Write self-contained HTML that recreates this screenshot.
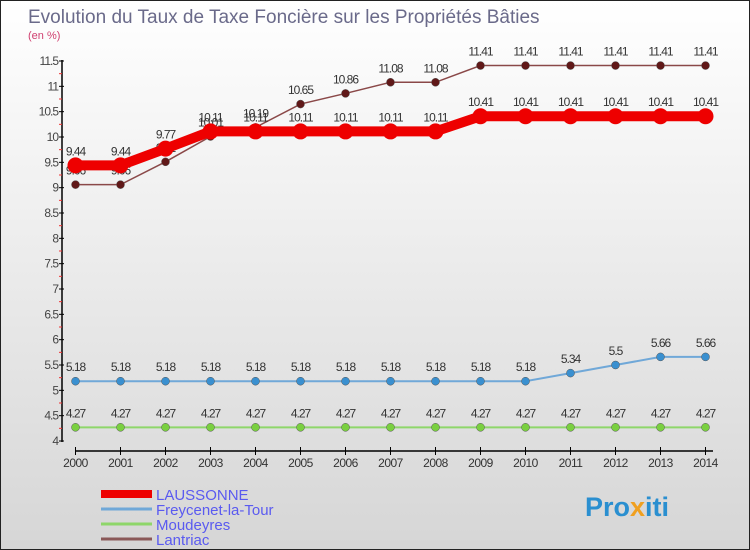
<!DOCTYPE html>
<html><head><meta charset="utf-8"><style>
body{margin:0}
#c{width:750px;height:550px;position:relative;box-sizing:border-box;border:1px solid #222;background:linear-gradient(#fff,#d6d6d6);font-family:"Liberation Sans",sans-serif;overflow:hidden}
</style></head><body>
<div id="c">
<svg id="s" width="748" height="548" xmlns="http://www.w3.org/2000/svg" style="position:absolute;left:0;top:0">
<text x="27" y="22" font-size="19" fill="#6a6a8a">Evolution du Taux de Taxe Foncière sur les Propriétés Bâties</text>
<text x="27" y="38" font-size="11" fill="#d04070">(en %)</text>
<g id="g"></g>
<text x="584" y="515" font-size="27" font-weight="bold" fill="#2a8fd0">Pro<tspan fill="#f0a020">x</tspan>iti</text>
</svg>
</div>
<script>
const years=[2000,2001,2002,2003,2004,2005,2006,2007,2008,2009,2010,2011,2012,2013,2014];
const yTicks=[4,4.5,5,5.5,6,6.5,7,7.5,8,8.5,9,9.5,10,10.5,11,11.5];
const lausonne=[9.44,9.44,9.77,10.11,10.11,10.11,10.11,10.11,10.11,10.41,10.41,10.41,10.41,10.41,10.41];
const freycenet=[5.18,5.18,5.18,5.18,5.18,5.18,5.18,5.18,5.18,5.18,5.18,5.34,5.5,5.66,5.66];
const moudeyres=[4.27,4.27,4.27,4.27,4.27,4.27,4.27,4.27,4.27,4.27,4.27,4.27,4.27,4.27,4.27];
const lantriac=[9.06,9.06,9.51,10.01,10.19,10.65,10.86,11.08,11.08,11.41,11.41,11.41,11.41,11.41,11.41];
const names=["LAUSSONNE","Freycenet-la-Tour","Moudeyres","Lantriac"];
const NS="http://www.w3.org/2000/svg",g=document.getElementById('g');
const X=i=>74.5+i*45, Y=v=>440-(v-4)*(380/7.5);
function mk(t,a,p){const e=document.createElementNS(NS,t);for(const k in a)e.setAttribute(k,a[k]);(p||g).appendChild(e);return e;}
// axes
let ax=mk('line',{x1:61,y1:59,x2:61,y2:441,stroke:'#000','stroke-width':1.5});


let bx=mk('line',{x1:74,y1:450,x2:712,y2:450,stroke:'#000','stroke-width':1.5});


yTicks.forEach((v,i)=>{
 mk('line',{x1:58,x2:63,y1:Y(v),y2:Y(v),stroke:'#000'});
 if(i<yTicks.length-1){mk('line',{x1:58,x2:61,y1:Y(v+0.25),y2:Y(v+0.25),stroke:'#e33'});}
 const t=mk('text',{x:57,y:Y(v)+4,'font-size':12,'text-anchor':'end',fill:'#444','letter-spacing':'-1'});t.textContent=v;
 
 
});
years.forEach((y,i)=>{
 mk('line',{x1:X(i),x2:X(i),y1:446,y2:454,stroke:'#000'});
 const t=mk('text',{x:X(i),y:466,'font-size':12,'text-anchor':'middle',fill:'#333','letter-spacing':'-0.5'});t.textContent=y;
 
 
});
function series(d,col,w,r,dot,name){
 const pl=mk('polyline',{points:d.map((v,i)=>X(i)+','+Y(v)).join(' '),fill:'none',stroke:col,'stroke-width':w});
 
 
 d.forEach((v,i)=>{
  const c=mk('circle',{cx:X(i),cy:Y(v),r:r,fill:dot,stroke:w>3?'none':'#555','stroke-width':0.5});
  
  
  const t=mk('text',{x:X(i),y:Y(v)-10,'font-size':12,'text-anchor':'middle',fill:'#333','letter-spacing':'-1'});t.textContent=v;
  
  
 });
}
series(moudeyres,'#8ed66a',2,4,'#7ad040','moudeyres');
series(freycenet,'#70a8d8',2,4,'#3a90d0','freycenet');
series(lantriac,'#8a4848',1.5,4,'#601818','lantriac');
series(lausonne,'#ee0000',10,8,'#ee0000','laussonne');
const lc=['#ee0000','#70a8d8','#8ed66a','#8a5858'],lw=[8,3,3,3];
names.forEach((n,i)=>{
 const y=493+i*15;
 mk('line',{x1:100,x2:151,y1:y,y2:y,stroke:lc[i],'stroke-width':lw[i]});
 const t=mk('text',{x:155,y:y+6,'font-size':15,fill:'#5a5af0'});t.textContent=n;
 
 
});
</script>
</body></html>
